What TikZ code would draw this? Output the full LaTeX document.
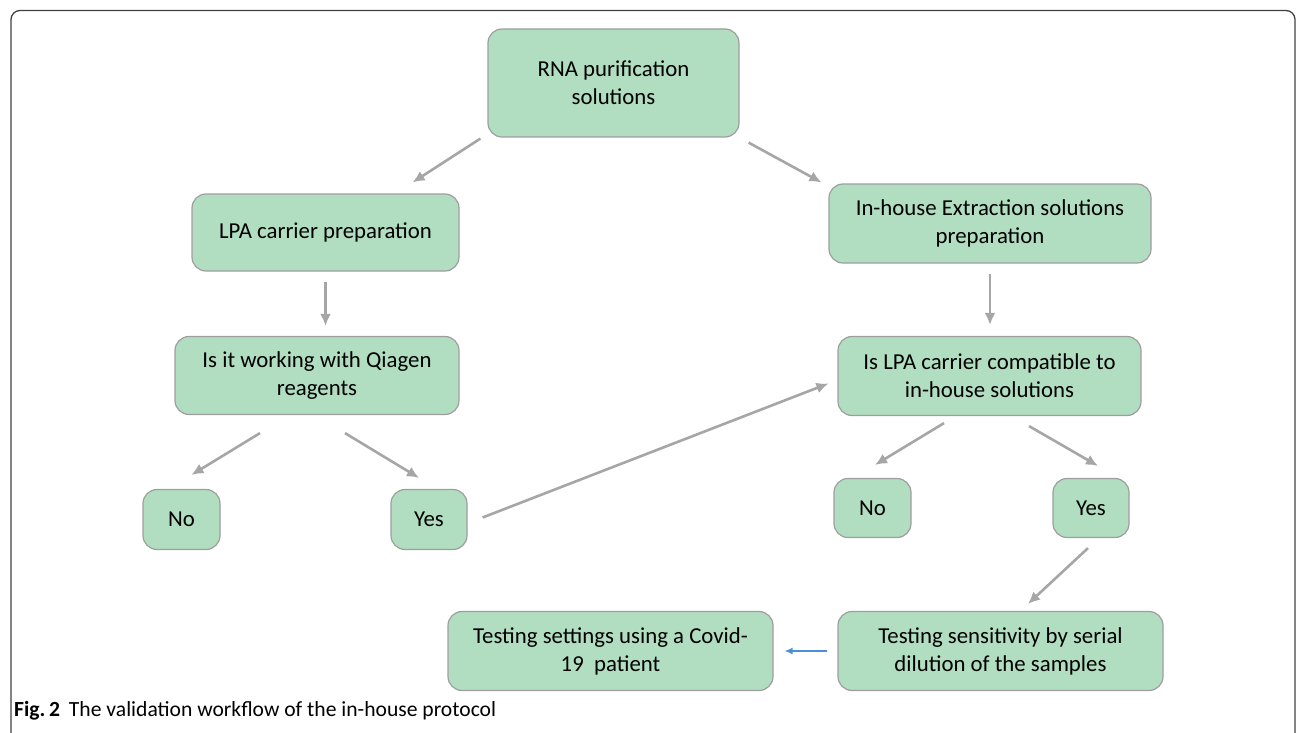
\documentclass[tikz,border=0pt]{standalone}
\usepackage{fontspec}
\setmainfont{Carlito}
\usepackage{tikz}
\usetikzlibrary{calc}
\usetikzlibrary{arrows.meta}
\definecolor{boxgreen}{RGB}{177,222,193}
\definecolor{boxline}{RGB}{158,158,158}
\definecolor{arrgray}{RGB}{166,166,166}
\definecolor{arrblue}{RGB}{74,144,217}
\tikzset{
  box/.style={draw=boxline, line width=1.2pt, fill=boxgreen, rounded corners=14pt,
    align=center, inner sep=0pt, font=\fontsize{22.8}{28}\selectfont},
  arr/.style={draw=arrgray, line width=2.6pt, -{Latex[length=12pt,width=11pt]}},
  arrb/.style={draw=arrblue, line width=1.4pt, -{Latex[length=8pt,width=7pt]}}
}
\newcommand{\flowbox}[6]{\node[box, minimum width=#4pt, minimum height=#5pt] (#1) at (#2,#3) {#6};}
\begin{document}
\begin{tikzpicture}[x=1pt,y=-1pt]
    \useasboundingbox (0,0) rectangle (1296,733);
    \draw[black!75, line width=1.3pt, rounded corners=9pt] (11,10.5) rectangle (1295,748);
    % top
    \flowbox{rna}{613.5}{83}{251}{108}{RNA purification\\solutions}
    \flowbox{lpa}{325.5}{232.5}{267}{77}{LPA carrier preparation}
    \flowbox{ext}{990}{223.5}{322}{79}{In-house Extraction solutions\\preparation}
    % checks
    \flowbox{work}{317}{375.5}{284}{78}{Is it working with Qiagen\\reagents}
    \flowbox{compat}{989.5}{376}{303}{79}{Is LPA carrier compatible to\\in-house solutions}
    % answers
    \flowbox{noL}{181.5}{519.5}{77}{60}{No}
    \flowbox{yesL}{429}{519.5}{76}{60}{Yes}
    \flowbox{noR}{872.5}{508}{77}{59}{No}
    \flowbox{yesR}{1091}{508}{76}{59}{Yes}
    % tests
    \flowbox{set}{610.5}{651}{325}{79}{Testing settings using a Covid-\\19\ \ patient}
    \flowbox{sens}{1000.5}{651}{325}{79}{Testing sensitivity by serial\\dilution of the samples}
    % arrows
    \draw[arr] ([shift={(-7,1)}]rna.south west) -- ([shift={(-47,-11)}]lpa.north east);
    \draw[arr] ([shift={(9,5)}]rna.south east) -- ([shift={(-7,-1)}]ext.north west);
    \draw[arr, shorten <=10pt, shorten >=10pt] (lpa.south) -- (lpa.south |- work.north);
    \draw[arr, shorten <=10pt, shorten >=11pt] (ext.south) -- (ext.south |- compat.north);
    \draw[arr] ([shift={(-57,18)}]work.south) -- ([shift={(10,-14)}]noL.north);
    \draw[arr] ([shift={(28,18)}]work.south) -- ([shift={(-10,-11)}]yesL.north);
    \draw[arr] ([shift={(15,-2)}]yesL.east) -- ([shift={(-9,7.5)}]compat.west);
    \draw[arr] ([shift={(-45.5,7)}]compat.south) -- ([shift={(2.5,-13)}]noR.north);
    \draw[arr] ([shift={(39.5,10)}]compat.south) -- ([shift={(7,-12)}]yesR.north);
    \draw[arr] ([shift={(-3,10)}]yesR.south) -- ([shift={(27.5,-7)}]sens.north);
    \draw[arrb, shorten <=10pt, shorten >=11pt] (sens.west) -- (set.east);
    % caption
    \node[anchor=west, inner sep=0pt, font=\fontsize{21.6}{24}\selectfont] (cap) at (14,711)
      {\textbf{Fig.\,2}\hspace{9pt}The validation workflow of the in-house protocol};
\end{tikzpicture}
\end{document}
